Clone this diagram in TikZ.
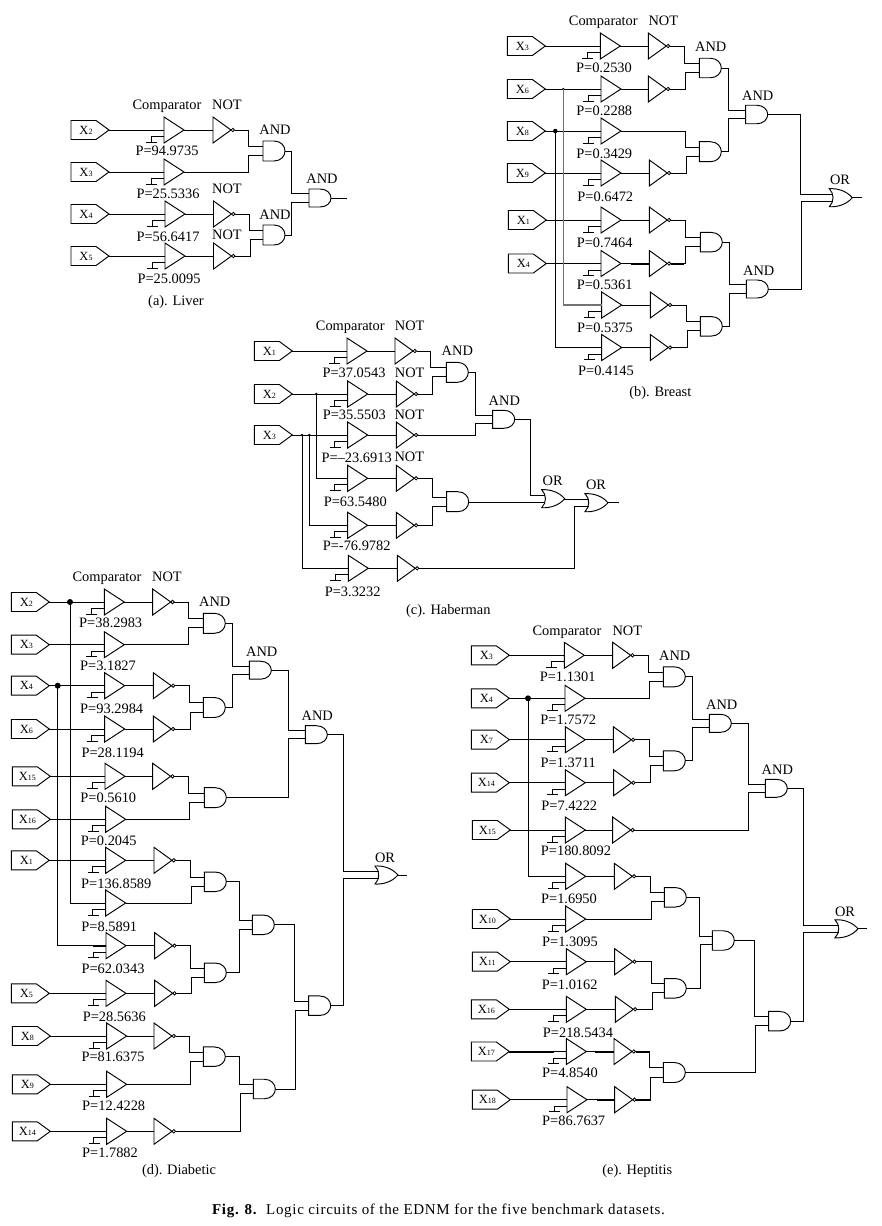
\documentclass[tikz,border=0pt]{standalone}
\usepackage{fontspec}
\setmainfont{Liberation Serif}
\tikzset{
  lw/.style={line width=0.95pt,line join=miter},
  wirel/.style={line width=1pt,draw=black},
  thickw/.style={line width=2pt},
  greywire/.style={line width=1.3pt,draw=black!55},
  lbl/.style={font=\fontsize{14.4}{14}\selectfont,inner sep=0pt,anchor=base,yshift=-4.7pt},
  jdot/.style={circle,fill=black,inner sep=0pt,minimum size=#1},
  pics/tag/.style={code={
    \draw[lw] (0,-9.5) -- (25,-9.5) -- (38,0) -- (25,9.5) -- (0,9.5) -- cycle;
    \coordinate (-out) at (38,0);
    \node[inner sep=0pt,anchor=base] (-t) at (15,4) {{\fontsize{12.5}{12}\selectfont X}{\fontsize{8}{8}\selectfont #1}};
  }},
  pics/comparator/.style={code={
    \draw[lw] (0,-13) -- (20,0) -- (0,13) -- cycle;
    \draw[lw] (0,6.5) -- (-13,6.5) -- (-13,12);
    \draw[lw] (-18,12) -- (-7,12);
    \coordinate (-in) at (0,0);
    \coordinate (-out) at (20,0);
  }},
  pics/notgate/.style={code={
    \draw[lw] (0,-13) -- (18,0) -- (0,13) -- cycle;
    \draw[line width=0.8pt] (19.8,0) circle (1.7);
    \coordinate (-in) at (0,0);
    \coordinate (-out) at (21.5,0);
  }},
  pics/andgate/.style={code={
    \draw[lw] (0,-#1/2) -- (11,-#1/2) .. controls (18,-#1/2) and (22,-#1/4) .. (22,0)
      .. controls (22,#1/4) and (18,#1/2) .. (11,#1/2) -- (0,#1/2) -- cycle;
    \coordinate (-in1) at (0,-#1*0.23);
    \coordinate (-in2) at (0,#1*0.23);
    \coordinate (-out) at (22,0);
  }},
  pics/orgate/.style={code={
    \draw[lw] (0,-9) .. controls (8,-9.5) and (17,-7) .. (23,0)
      .. controls (17,7) and (8,9.5) .. (0,9) .. controls (5,4) and (5,-4) .. (0,-9) -- cycle;
    \coordinate (-in1) at (3.6,-3.5);
    \coordinate (-in2) at (3.6,3.5);
    \coordinate (-out) at (23,0);
  }},
}
\newcommand\tags[1]{\foreach \n/\x/\y/\s in {#1}{\pic (\n) at (\x,\y) {tag=\s};}}
\newcommand\comps[1]{\foreach \n/\x/\y in {#1}{\pic (\n) at (\x,\y) {comparator};}}
\newcommand\nots[1]{\foreach \n/\x/\y in {#1}{\pic (\n) at (\x,\y) {notgate};}}
\newcommand\ands[1]{\foreach \n/\x/\y/\h in {#1}{\pic (\n) at (\x,\y) {andgate=\h};}}
\newcommand\labs[1]{\foreach \n/\x/\y/\t in {#1}{\node[lbl] (\n) at (\x,\y) {\t};}}
\newcommand\straight[1]{\foreach \a/\b in {#1}{\draw[wirel] (\a) -- (\a -| \b);}}
\newcommand\wires[1]{\foreach \a/\b/\m in {#1}{\draw[wirel] (\a) -| (\b -| \m,0) -- (\b);}}
\begin{document}
\begin{tikzpicture}[x=1pt,y=-1pt]
\useasboundingbox (0,0) rectangle (882,1226);
% ---------- (a) Liver
\tags{ax2/71/130/2,ax3/71/172/3,ax4/71/214/4,ax5/71/256/5}
\comps{ac2/164/130,ac3/164/172,ac4/165/214,ac5/165/256}
\nots{an2/213/130,an4/213.5/214,an5/213.5/256}
\ands{aa1/263/151/20,aa2/263/235/20,aa3/309/198/18}
\straight{ax2-out/ac2-in,ax3-out/ac3-in,ax4-out/ac4-in,ax5-out/ac5-in,ac2-out/an2-in,ac4-out/an4-in,ac5-out/an5-in}
\wires{an2-out/aa1-in1/248,ac3-out/aa1-in2/248,an4-out/aa2-in1/249,an5-out/aa2-in2/250.7,aa1-out/aa3-in1/291.7,aa2-out/aa3-in2/291.7}
\coordinate (aend) at (347,198);
\draw[wirel] (aa3-out) -- (aend);
\labs{al1/167/104.7/Comparator,al2/227/104.7/NOT,al3/275/129.7/AND,al4/275/215/AND,al5/322/179/AND,al6/227/189/NOT,al7/227/235/NOT,
 ap1/167/151/P=94.9735,ap2/168/193.7/P=25.5336,ap3/168/236.7/P=56.6417,ap4/169/279/P=25.0095,acap/176/300.7/(a). Liver}
% ---------- (b) Breast
\tags{bx3/507.3/46/3,bx6/507.3/89/6,bx8/507.3/131/8,bx9/507.3/173/9,bx1/508.3/220/1,bx4/508.3/263.5/4}
\comps{bc3/600.3/46,bc6/601/89,bc8/601/131,bc9/601/173,bc1/601/220,bc4/601/263.5,bc5/601.7/305,bc7/601.7/347.5}
\nots{bn3/648.3/46,bn6/648.3/89,bn9/649.3/173,bn1/649.3/220,bn4/649.3/263.5,bn5/650.3/305,bn7/650.3/347.5}
\ands{ba1/699.3/68/19.5,ba2/699.3/151.7/20,ba3/745.7/114.5/18.5,ba4/700.3/242.2/19.5,ba5/700.3/326.3/19.5,ba6/746.3/289/18}
\pic (bor) at (829.3,197.7) {orgate};
\straight{bx3-out/bc3-in,bx6-out/bc6-in,bx8-out/bc8-in,bx9-out/bc9-in,bx1-out/bc1-in,bx4-out/bc4-in,bc3-out/bn3-in,bc6-out/bn6-in,bc9-out/bn9-in,bc1-out/bn1-in,bc4-out/bn4-in,bc5-out/bn5-in,bc7-out/bn7-in}
\wires{bn3-out/ba1-in1/684.3,bn6-out/ba1-in2/685.3,bc8-out/ba2-in1/685.3,bn9-out/ba2-in2/686.3,ba1-out/ba3-in1/728.7,ba2-out/ba3-in2/728.7,
 bn1-out/ba4-in1/685.3,bn4-out/ba4-in2/685,bn5-out/ba5-in1/686.7,bn7-out/ba5-in2/687.7,ba4-out/ba6-in1/729.7,ba5-out/ba6-in2/729.7,
 ba3-out/bor-in1/800.7,ba6-out/bor-in2/801}
\node[jdot=4.5pt] (bd8) at (555.3,131) {};
\node[jdot=2.5pt] (bd6) at (563.3,89) {};
\draw[wirel] (bd8.center) |- (bc7-in);
\draw[greywire] (bd6.center) |- (bc5-in);
\coordinate (bend) at (861.7,197.7);
\draw[wirel] (bor-out) -- (bend);
\draw[thickw] (bn4-in) -- ++(-18,0) (bn4-out) -- ++(13,0);
\labs{bl1/603.3/21/Comparator,bl2/663.3/21/NOT,bl3/710.7/46.7/AND,bl4/757.7/96/AND,bl5/840/180/OR,bl6/758.7/270.3/AND,
 bp1/604/67.7/P=0.2530,bp2/604.3/110.3/P=0.2288,bp3/604.3/153.7/P=0.3429,bp4/605.3/196.7/P=0.6472,bp5/604.7/242.3/P=0.7464,bp6/604.7/285/P=0.5361,bp7/605/327.3/P=0.5375,bp8/606/371/P=0.4145,bcap/660.3/391.3/(b). Breast}
% ---------- (c) Haberman
\tags{cx1/254.3/351/1,cx2/254.3/394/2,cx3/254.3/435/3}
\comps{cc1/347/351,cc2/347.7/394,cc3/347.7/435,cc4/347.7/478.3,cc5/347.7/525.3,cc6/348.3/568.3}
\nots{cn1/395/351,cn2/396.3/394,cn3/396.3/435,cn4/396.3/478.3,cn5/396.3/525.3,cn6/397.3/568.3}
\ands{ca1/446.3/372.3/20,ca2/492.7/419.3/18,ca3/446.7/501.7/20}
\pic (cor1) at (541.7,498.7) {orgate};
\pic (cor2) at (585,502.7) {orgate};
\straight{cx1-out/cc1-in,cx2-out/cc2-in,cx3-out/cc3-in,cc1-out/cn1-in,cc2-out/cn2-in,cc3-out/cn3-in,cc4-out/cn4-in,cc5-out/cn5-in,cc6-out/cn6-in}
\wires{cn1-out/ca1-in1/430,cn2-out/ca1-in2/432,ca1-out/ca2-in1/475.7,cn3-out/ca2-in2/475.7,ca2-out/cor1-in1/530.3,cn4-out/ca3-in1/432.7,cn5-out/ca3-in2/432.3,cn6-out/cor2-in2/574.3}
\draw[wirel] (ca3-out) -- (cor1-in2 -| ca3-out) -- (cor1-in2);
\draw[wirel] (cor1-out) -- (cor2-in1 -| cor1-out) -- (cor2-in1);
\node[jdot=2.8pt] (cd2) at (316.3,394) {};
\node[jdot=2.8pt] (cd3a) at (302,435) {};
\node[jdot=2.8pt] (cd3b) at (309.3,435) {};
\draw[wirel] (cd2.center) |- (cc4-in);
\draw[wirel] (cd3a.center) |- (cc6-in);
\draw[wirel] (cd3b.center) |- (cc5-in);
\coordinate (cend) at (619,502.7);
\draw[wirel] (cor2-out) -- (cend);
\labs{cl1/350.3/326/Comparator,cl2/409.7/326/NOT,cl3/457.3/351/AND,cl4/504.3/400.3/AND,cl5/409.7/372.3/NOT,cl6/409.3/414.3/NOT,cl7/409.3/457/NOT,cl8/552.7/481/OR,cl9/596/485/OR,
 cp1/354/372.3/P=37.0543,cp2/354.3/415/P=35.5503,cp3/356.7/458/P=–23.6913,cp4/355.3/501.3/P=63.5480,cp5/356.7/546/P=-76.9782,cp6/352.7/591.7/P=3.3232,ccap/448.3/610/(c). Haberman}
% ---------- (d) Diabetic
\tags{dx2/11.3/602/2,dx3/11.3/644.7/3,dx4/11.3/685.7/4,dx6/11.3/729/6,dx15/12.3/776.3/15,dx16/12.3/819.3/16,dx1/11.3/860.3/1,dx5/11.3/993.3/5,dx8/12.3/1036/8,dx9/12.3/1084.3/9,dx14/12.3/1131.3/14}
\comps{dc2/104.3/602,dc3/104.3/644.7,dc4/104.7/685.7,dc6/104.7/729,dc15/105/776.3,dc16/105.7/819.3,dc1/105.7/860.3,dc1b/105.7/903,dc62/106/945.7,dc5/106/993.3,dc8/106.7/1036,dc9/106.7/1084.3,dc14/106.7/1131.3}
\nots{dn2/152.7/602,dn4/153.3/685.7,dn6/153.3/729,dn15/152.7/776.3,dn1/154/860.3,dn62/154.7/945.7,dn5/154.7/993.3,dn8/154/1036,dn14/154/1131.3}
\ands{da1/203.3/623.3/20,da2/203.3/707.5/20,da3/204.3/797.7/20,da12/249.3/670.2/18,da123/305.3/734.7/18,da4/204.3/881.8/19.5,da5/204.3/972.8/19.5,da45/252.3/924.8/19.5,da6/203.3/1056.7/19.5,da7/253.3/1089/19.5,da8/308.7/1005.7/19.5}
\pic (dor) at (375,875) {orgate};
\straight{dx2-out/dc2-in,dx3-out/dc3-in,dx4-out/dc4-in,dx6-out/dc6-in,dx15-out/dc15-in,dx16-out/dc16-in,dx1-out/dc1-in,dx5-out/dc5-in,dx8-out/dc8-in,dx9-out/dc9-in,dx14-out/dc14-in,
 dc2-out/dn2-in,dc4-out/dn4-in,dc6-out/dn6-in,dc15-out/dn15-in,dc1-out/dn1-in,dc62-out/dn62-in,dc5-out/dn5-in,dc8-out/dn8-in,dc14-out/dn14-in}
\wires{dn2-out/da1-in1/188.7,dc3-out/da1-in2/188.7,da1-out/da12-in1/232.3,da2-out/da12-in2/232.3,dn4-out/da2-in1/189.7,dn6-out/da2-in2/190.3,da12-out/da123-in1/288.3,da3-out/da123-in2/288.3,
 dn15-out/da3-in1/188.7,dc16-out/da3-in2/189.7,da123-out/dor-in1/343.7,da8-out/dor-in2/343.7,
 dn1-out/da4-in1/190.3,dc1b-out/da4-in2/191.7,da4-out/da45-in1/239,da5-out/da45-in2/239.3,dn62-out/da5-in1/190.3,dn5-out/da5-in2/191.7,
 da45-out/da8-in1/294.7,da7-out/da8-in2/295.3,dn8-out/da6-in1/189.3,dc9-out/da6-in2/190.7,da6-out/da7-in1/239.7,dn14-out/da7-in2/240.3}
\node[jdot=6pt] (dd2) at (70,602) {};
\node[jdot=6pt] (dd4) at (57.7,685.7) {};
\draw[wirel] (dd2.center) |- (dc1b-in);
\draw[wirel] (dd4.center) |- (dc62-in);
\coordinate (dend) at (407,875);
\draw[wirel] (dor-out) -- (dend);
\draw[thickw] (dc62-in) -- ++(-13,0);
\labs{dl1/107/577/Comparator,dl2/167/577/NOT,dl3/214.7/602/AND,dl4/261.7/651.3/AND,dl5/317.3/716/AND,dl6/385/857.7/OR,
 dp1/110.7/623/P=38.2983,dp2/108/666/P=3.1827,dp3/111.7/709/P=93.2984,dp4/112.7/752.3/P=28.1194,dp5/108.3/797.3/P=0.5610,dp6/108.7/840.3/P=0.2045,dp7/116.3/883.3/P=136.8589,dp8/109.3/926.3/P=8.5891,dp9/113/968.7/P=62.0343,dp10/114.3/1016.7/P=28.5636,dp11/113/1057/P=81.6375,dp12/113.7/1105.3/P=12.4228,dp13/110/1152.3/P=1.7882,dcap/179/1170/(d). Diabetic}
% ---------- (e) Heptitis
\tags{ex3/471.3/655.3/3,ex4/471.3/698.3/4,ex7/471.3/739.7/7,ex14/471.3/782.7/14,ex15/472.3/830/15,ex10/472.3/919/10,ex11/472.3/961.7/11,ex16/471.3/1009.3/16,ex17/471.3/1051.5/17,ex18/472.3/1099.7/18}
\comps{ec3/564.3/655.3,ec4/565/698.3,ec7/565.3/739.7,ec14/565.3/782.7,ec15/565.3/830,ec4b/565.7/876.3,ec10/565.7/919,ec11/566.3/961.7,ec16/566.3/1009.3,ec17/566.3/1051.5,ec18/567/1099.7}
\nots{en3/612.7/655.3,en7/613.3/739.7,en14/613.6/782.7,en15/612.7/830,en4b/614.3/876.3,en11/614.7/961.7,en16/615.3/1009.3,en17/614/1051.5,en18/614.7/1099.7}
\ands{ea1/663.3/676.8/20,ea2/663.3/760.8/20,ea12/709.3/723.3/18,ea123/765.3/788.3/18,ea3/664.3/897.3/19.5,ea4/664.3/988.3/19.5,ea34/712.3/940.5/19.5,ea5/663.3/1072.5/20,ea8/768.7/1021.2/19.5}
\pic (eor) at (835,928.8) {orgate};
\straight{ex3-out/ec3-in,ex4-out/ec4-in,ex7-out/ec7-in,ex14-out/ec14-in,ex15-out/ec15-in,ex10-out/ec10-in,ex11-out/ec11-in,ex16-out/ec16-in,ex17-out/ec17-in,ex18-out/ec18-in,
 ec3-out/en3-in,ec7-out/en7-in,ec14-out/en14-in,ec15-out/en15-in,ec4b-out/en4b-in,ec11-out/en11-in,ec16-out/en16-in,ec17-out/en17-in,ec18-out/en18-in}
\wires{en3-out/ea1-in1/648.7,ec4-out/ea1-in2/649.7,ea1-out/ea12-in1/692.3,ea2-out/ea12-in2/692.3,en7-out/ea2-in1/649.3,en14-out/ea2-in2/650.3,ea12-out/ea123-in1/748.3,en15-out/ea123-in2/748.3,ea123-out/eor-in1/803.7,ea8-out/eor-in2/803.7,
 en4b-out/ea3-in1/650.3,ec10-out/ea3-in2/651.7,ea3-out/ea34-in1/699.3,ea4-out/ea34-in2/700.3,en11-out/ea4-in1/651.3,en16-out/ea4-in2/652.3,ea34-out/ea8-in1/754.7,ea5-out/ea8-in2/755.7,en17-out/ea5-in1/649.7,en18-out/ea5-in2/650.7}
\node[jdot=6pt] (ed4) at (528,698.3) {};
\draw[wirel] (ed4.center) |- (ec4b-in);
\coordinate (eend) at (867.3,928.8);
\draw[wirel] (eor-out) -- (eend);
\draw[thickw] (ex17-out) -- ++(45,0);
\draw[thickw] (en17-in) -- ++(-19,0);
\draw[thickw] (en17-out) -- ++(14,0);
\draw[thickw] (en18-in) -- ++(-18,0);
\draw[thickw] (en18-out) -- ++(15,0);
\labs{el1/567/630.3/Comparator,el2/627.3/630.3/NOT,el3/674.7/655.3/AND,el4/721.7/704.7/AND,el5/777.3/769.3/AND,el6/845/911.3/OR,
 ep1/567.7/676.7/P=1.1301,ep2/568.3/719.7/P=1.7572,ep3/568.3/762.7/P=1.3711,ep4/569.3/805.7/P=7.4222,ep5/576/851/P=180.8092,ep6/569/899/P=1.6950,ep7/570/942/P=1.3095,ep8/569.7/984.7/P=1.0162,ep9/578/1032.7/P=218.5434,ep10/570/1073/P=4.8540,ep11/573.7/1120.7/P=86.7637,ecap/637.3/1169.7/(e). Heptitis}
% ---------- figure caption
\node[font=\fontsize{15}{15}\selectfont\addfontfeature{LetterSpace=4.6},inner sep=0pt] (figcap) at (438.5,1211) {\textbf{Fig. 8.}\ \ Logic circuits of the EDNM for the five benchmark datasets.};
\end{tikzpicture}
\end{document}
